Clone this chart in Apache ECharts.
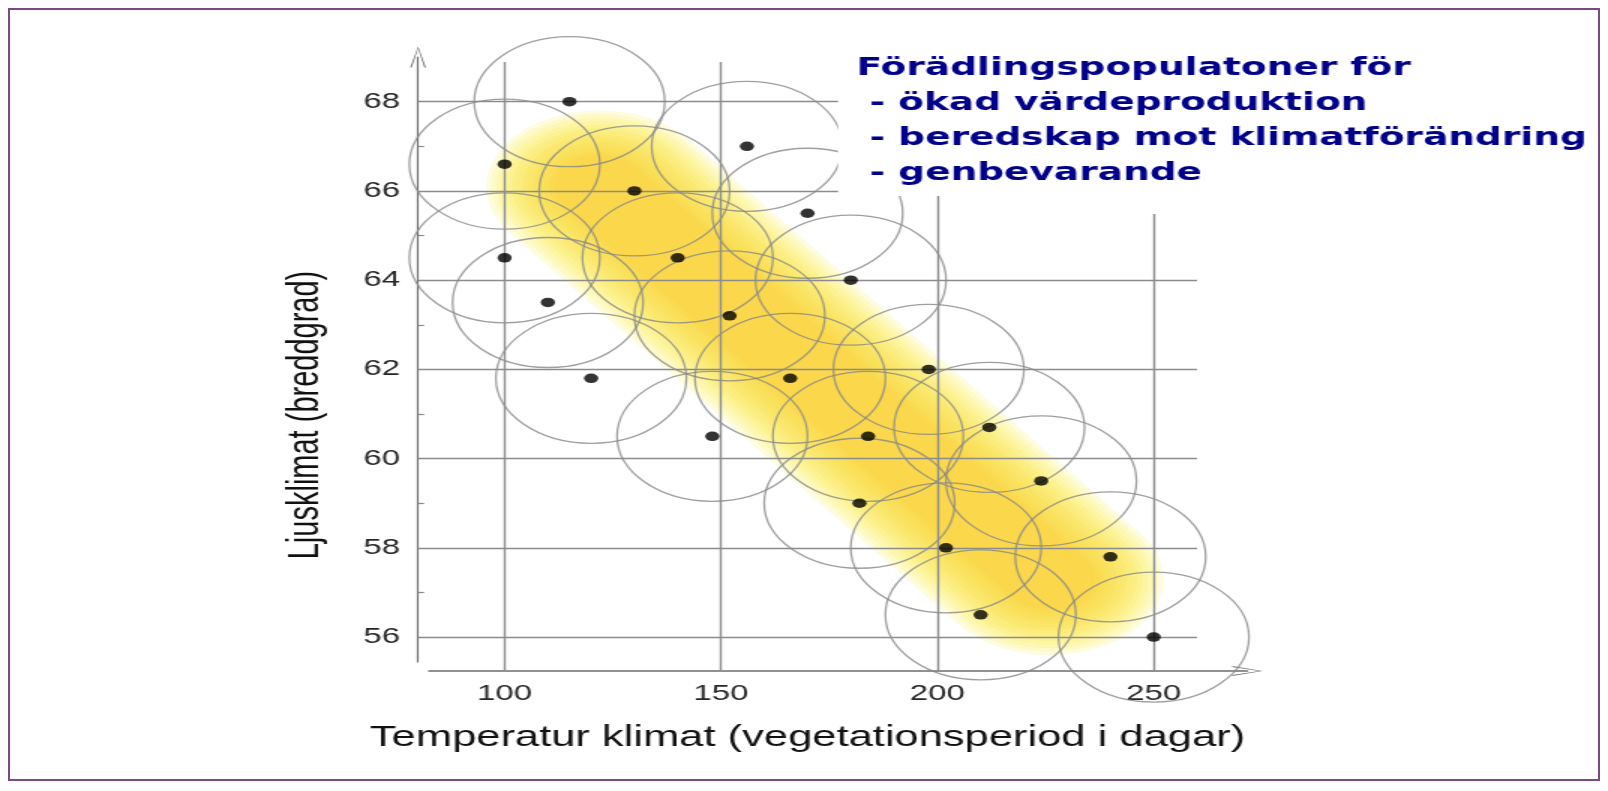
<!DOCTYPE html>
<html>
<head>
<meta charset="utf-8">
<title>Förädlingspopulationer</title>
<script src="https://cdn.jsdelivr.net/npm/echarts@6/dist/echarts.min.js"></script>
<style>
html, body { margin: 0; padding: 0; background: #fff; overflow: hidden; }
/* the original picture is stretched sideways, so the chart is drawn narrow and widened */
#stretch { position: absolute; left: 0; top: 0; width: 1072px; height: 791px; transform: scaleX(1.5); transform-origin: 0 0; }
#chart { width: 1072px; height: 791px; }
#frame { position: absolute; left: 8px; top: 8px; width: 1588px; height: 769px; border: 2px solid #7b4a82; pointer-events: none; }
</style>
</head>
<body>
<div id="stretch"><div id="chart"></div></div>
<div id="frame"></div>
<script>
// populations: vegetation period (days) and latitude
var tempDays = [115, 100, 156, 130, 170, 100, 140, 180, 110, 152, 198, 120, 166, 212, 148, 184, 224, 182, 202, 240, 210, 250];
var latitude = [68, 66.6, 67, 66, 65.5, 64.5, 64.5, 64, 63.5, 63.2, 62, 61.8, 61.8, 60.7, 60.5, 60.5, 59.5, 59, 58, 57.8, 56.5, 56];

var xTicks = [100, 150, 200, 250];
var yTicks = [56, 58, 60, 62, 64, 66, 68];

// yellow breeding band, start and end of its centre line
var bandDays = [122, 226];
var bandLat = [66.1, 57.3];

var titleLines = [
    'Förädlingspopulatoner för',
    ' - ökad värdeproduktion',
    ' - beredskap mot klimatförändring',
    ' - genbevarande'
];

var points = tempDays.map(function (d, i) { return [d, latitude[i]]; });
var bandData = bandDays.map(function (d, i) { return [d, bandLat[i]]; });

var chart = echarts.init(document.getElementById('chart'));

var arrowPath = 'path://M5,0 L10,20 L9,20 L5,2 L1,20 L0,20 Z';
var labelFont = { fontSize: 22, color: '#262626', fontFamily: 'Liberation Sans' };

// soft band: many thin-alpha round-capped strokes stacked, widest first
var series = [];
var nLayers = 14;
for (var k = 0; k < nLayers; k++) {
    var t = k / (nLayers - 1);
    var g = Math.round(242 - 38 * t);
    var b = Math.round(100 - 45 * t);
    series.push({
        type: 'line',
        xAxisIndex: 0,
        yAxisIndex: 0,
        data: bandData,
        showSymbol: false,
        silent: true,
        z: 1,
        lineStyle: { width: 152 - k * 7, color: 'rgba(252,' + g + ',' + b + ',0.2)', cap: 'round' }
    });
}

series.push({
    type: 'scatter',
    xAxisIndex: 0,
    yAxisIndex: 0,
    data: points,
    symbol: 'circle',
    symbolSize: [127, 130],
    silent: true,
    z: 3,
    itemStyle: { color: 'rgba(0,0,0,0)', borderColor: '#878787', borderWidth: 1.3 },
    markLine: {
        silent: true,
        symbol: ['none', 'none'],
        label: { show: false },
        lineStyle: { color: '#8c8c8c', width: 1.4, type: 'solid' },
        data: xTicks.map(function (v) { return { xAxis: v }; })
            .concat(yTicks.map(function (v) { return { yAxis: v }; }))
    }
});

series.push({
    type: 'scatter',
    xAxisIndex: 0,
    yAxisIndex: 0,
    data: points,
    symbol: 'circle',
    symbolSize: 9.5,
    silent: true,
    z: 6,
    itemStyle: { color: '#000' }
});

var option = {
    animation: false,
    grid: [
        { left: 278.7, right: 274, top: 62, bottom: 120 },   // data
        { left: 278.7, width: 50, top: 57, bottom: 129 },    // y axis line
        { left: 286, right: 240.5, top: 600, bottom: 120 }   // x axis line
    ],
    xAxis: [
        {
            gridIndex: 0, type: 'value', min: 80, max: 260, minInterval: 50, maxInterval: 50,
            axisLine: { show: false }, axisTick: { show: false }, splitLine: { show: false },
            axisLabel: Object.assign({ showMinLabel: false, showMaxLabel: false, margin: 12 }, labelFont),
            name: 'Temperatur klimat (vegetationsperiod i dagar)',
            nameLocation: 'middle',
            nameGap: 52,
            nameTextStyle: { fontSize: 29, color: '#111', fontFamily: 'Liberation Sans' }
        },
        { gridIndex: 1, type: 'value', show: false },
        {
            gridIndex: 2, type: 'value', min: 0, max: 1,
            axisLine: { show: true, onZero: false, symbol: ['none', arrowPath], symbolSize: [10, 21],
                lineStyle: { color: '#6e6e6e', width: 1.5 } },
            axisTick: { show: false }, axisLabel: { show: false }, splitLine: { show: false }
        }
    ],
    yAxis: [
        {
            gridIndex: 0, type: 'value', min: 55.24, max: 68.89, minInterval: 2, maxInterval: 2,
            axisLine: { show: false }, axisTick: { show: false, inside: true },
            minorTick: { show: true, splitNumber: 2, length: 4, lineStyle: { color: '#888', width: 1.2 } },
            splitLine: { show: false },
            axisLabel: Object.assign({ showMinLabel: false, showMaxLabel: false, margin: 12 }, labelFont)
        },
        {
            gridIndex: 1, type: 'value', min: 0, max: 1,
            axisLine: { show: true, onZero: false, symbol: ['none', arrowPath], symbolSize: [12, 21],
                lineStyle: { color: '#6e6e6e', width: 1.2 } },
            axisTick: { show: false }, axisLabel: { show: false }, splitLine: { show: false }
        },
        { gridIndex: 2, type: 'value', show: false }
    ],
    graphic: [
        { type: 'rect', z: 100, shape: { x: 558.7, y: 30, width: 513, height: 166 }, style: { fill: '#fff' } },
        { type: 'rect', z: 100, shape: { x: 733, y: 195, width: 67, height: 19 }, style: { fill: '#fff' } },
        {
            type: 'text', z: 101, x: 571, y: 51,
            style: { text: titleLines.join('\n'), font: 'bold 25px "DejaVu Sans"', fill: '#00008b', lineHeight: 35 }
        },
        {
            type: 'text', z: 101, x: 203.7, y: 415, rotation: Math.PI / 2,
            style: { text: 'Ljusklimat (breddgrad)', font: '29px "Liberation Sans"', fill: '#111',
                align: 'center', verticalAlign: 'middle' }
        }
    ],
    series: series
};

chart.setOption(option);
</script>
</body>
</html>
